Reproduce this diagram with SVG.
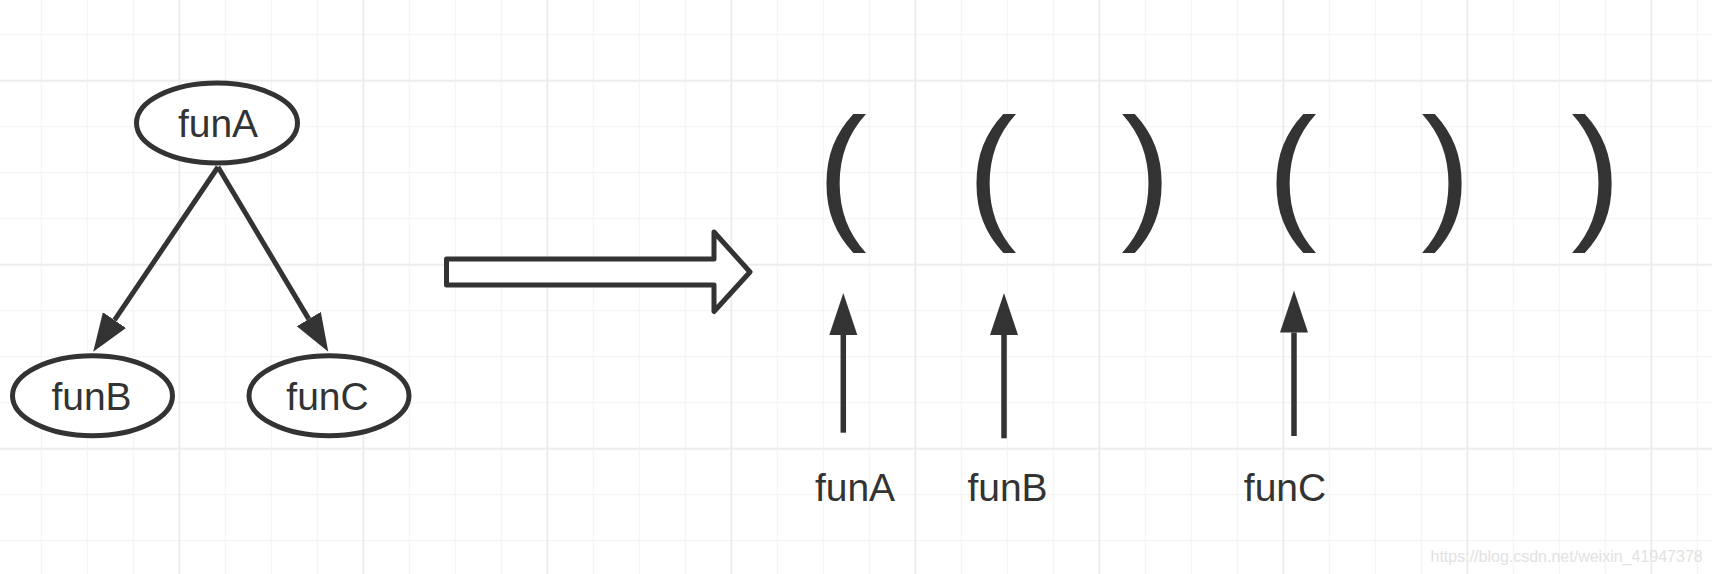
<svg xmlns="http://www.w3.org/2000/svg" width="1712" height="574" viewBox="0 0 1712 574">
<style>
.node ellipse{fill:#fff;stroke:#333;stroke-width:5}
.lbl{font-family:"Liberation Sans",Arial,Helvetica,sans-serif;font-size:39px;fill:#333;text-anchor:middle}
.par{font-family:"Liberation Sans",Arial,Helvetica,sans-serif;font-size:149px;fill:#333;text-anchor:middle}
.edge{fill:none;stroke:#333;stroke-width:5}
.up{fill:none;stroke:#333;stroke-width:5.5}
.wm{font-family:"Liberation Sans",Arial,Helvetica,sans-serif;font-size:16px;fill:#e2e2e2}
</style>
<defs>
<pattern id="gMinor" patternUnits="userSpaceOnUse" x="40.8" y="34.2" width="46" height="46">
<rect x="0" y="0" width="1" height="46" fill="#f2f2f2"/>
<rect x="0" y="0" width="46" height="1" fill="#f2f2f2"/>
</pattern>
<pattern id="gMajor" patternUnits="userSpaceOnUse" x="178.3" y="79.7" width="184" height="184">
<rect x="0" y="0" width="2" height="184" fill="#ededed"/>
<rect x="0" y="0" width="184" height="2" fill="#ededed"/>
</pattern>
<marker id="ah" markerUnits="userSpaceOnUse" markerWidth="40" markerHeight="30" refX="0" refY="14" orient="auto">
<path d="M0,0 L38,14 L0,28 Z" fill="#333"/>
</marker>
<marker id="ahUp" markerUnits="userSpaceOnUse" markerWidth="44" markerHeight="30" refX="0" refY="14" orient="auto">
<path d="M0,0 L42,14 L0,28 Z" fill="#333"/>
</marker>
</defs>
<rect x="0" y="0" width="1712" height="574" fill="#fff"/>
<rect x="0" y="0" width="1712" height="574" fill="url(#gMinor)"/>
<rect x="0" y="0" width="1712" height="574" fill="url(#gMajor)"/>

<g id="connectors">
<path class="edge" d="M218,167 L114.5,320.2" marker-end="url(#ah)"/>
<path class="edge" d="M218,167 L308.8,319.1" marker-end="url(#ah)"/>
</g>

<g id="funA" class="node">
<ellipse cx="217" cy="123" rx="80.5" ry="40"/>
<text class="lbl" x="218" y="136.7">funA</text>
</g>
<g id="funB" class="node">
<ellipse cx="92.5" cy="395.8" rx="80" ry="40"/>
<text class="lbl" x="91.5" y="410">funB</text>
</g>
<g id="funC" class="node">
<ellipse cx="329" cy="395.8" rx="80" ry="40"/>
<text class="lbl" x="327.5" y="410">funC</text>
</g>

<g id="bigArrow">
<polygon points="446.5,259 714,259 714,232 750,272 714,311.5 714,285 446.5,285" fill="#fff" stroke="#333" stroke-width="5" stroke-linejoin="round"/>
</g>

<g id="parens">
<text class="par" x="842" y="221.8">(</text>
<text class="par" x="992" y="221.8">(</text>
<text class="par" x="1146" y="221.8">)</text>
<text class="par" x="1292" y="221.8">(</text>
<text class="par" x="1446" y="221.8">)</text>
<text class="par" x="1596" y="221.8">)</text>
</g>

<g id="pointers">
<path class="up" d="M843.3,432.7 V335" marker-end="url(#ahUp)"/>
<path class="up" d="M1004,438.3 V335" marker-end="url(#ahUp)"/>
<path class="up" d="M1294,436 V332.5" marker-end="url(#ahUp)"/>
</g>

<g id="labels">
<text class="lbl" x="855" y="500.7">funA</text>
<text class="lbl" x="1007.5" y="500.7">funB</text>
<text class="lbl" x="1285" y="500.7">funC</text>
</g>

<text class="wm" x="1430.5" y="561.7">https://blog.csdn.net/weixin_41947378</text>
</svg>
